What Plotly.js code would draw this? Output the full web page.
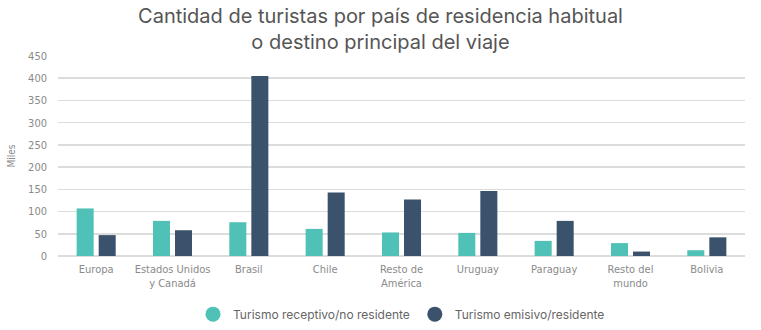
<!DOCTYPE html>
<html><head><meta charset="utf-8">
<script src="https://cdn.plot.ly/plotly-3.0.1.min.js"></script>
<style>html,body{margin:0;padding:0;background:#fff}#chart{width:761px;height:330px}</style>
</head><body><div id="chart"></div>
<script>
const categories = ["Europa","Estados Unidos<br>y Canadá","Brasil","Chile","Resto de<br>América","Uruguay","Paraguay","Resto del<br>mundo","Bolivia"];
const receptivo = [107, 79, 76, 61, 53, 52, 34, 29, 13];
const emisivo = [47, 58, 405, 143, 127, 146, 79, 10, 42];
const seriesNames = ["Turismo receptivo/no residente","Turismo emisivo/residente"];
const colors = ["#4FC1B6","#3B526C"];
const narrow = "'Liberation Sans Narrow','DejaVu Sans Condensed',Roboto,sans-serif";
const traces = [
  {type:"bar", x:categories, y:receptivo, name:seriesNames[0], marker:{color:colors[0]}, showlegend:false, hoverinfo:"y"},
  {type:"bar", x:categories, y:emisivo, name:seriesNames[1], marker:{color:colors[1]}, showlegend:false, hoverinfo:"y"},
  {type:"scatter", mode:"markers", x:[null], y:[null], name:seriesNames[0], marker:{color:colors[0], size:15, symbol:"circle"}},
  {type:"scatter", mode:"markers", x:[null], y:[null], name:seriesNames[1], marker:{color:colors[1], size:15, symbol:"circle"}}
];
const layout = {
  width:761, height:330,
  margin:{l:58, r:16, t:56, b:74},
  paper_bgcolor:"#fff", plot_bgcolor:"#fff",
  title:{text:"Cantidad de turistas por país de residencia habitual<br>o destino principal del viaje", x:0.5, xanchor:"center",
    yref:"container", y:0.93, yanchor:"middle",
    font:{family:"Inter, 'Open Sans', sans-serif", size:20, color:"#555"}},
  barmode:"group", bargap:0.423, bargroupgap:0.227,
  xaxis:{type:"category", automargin:false, ticklabelstandoff:5, tickfont:{family:narrow, size:11, color:"#8a8a8a"}, showgrid:false, showline:false, ticks:"", fixedrange:true},
  yaxis:{range:[0,450], dtick:50, automargin:false, ticklabelstandoff:10, tickfont:{family:narrow, size:11, color:"#8a8a8a"}, gridcolor:"#dcdcdc", gridwidth:1.5,
    zeroline:true, zerolinecolor:"#dcdcdc", zerolinewidth:1.5, ticks:"", ticklen:0,
    title:{text:"Miles", font:{family:narrow, size:10, color:"#8a8a8a"}, standoff:10}},
  legend:{orientation:"h", x:0.5, xanchor:"center", yref:"container", y:0.048, yanchor:"middle",
    font:{family:"Inter, 'Open Sans', sans-serif", size:12, color:"#666"}, itemwidth:30},
  showlegend:true
};
Plotly.newPlot("chart", traces, layout, {displayModeBar:false, staticPlot:true});
</script></body></html>
